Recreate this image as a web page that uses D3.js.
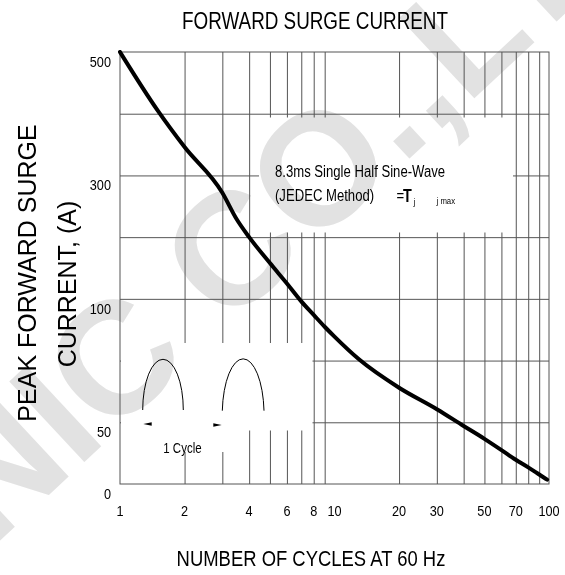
<!DOCTYPE html>
<html>
<head>
<meta charset="utf-8">
<script src="https://cdn.jsdelivr.net/npm/d3@7"></script>
<style>
  html, body { margin: 0; padding: 0; background: #fff; }
  svg { display: block; }
</style>
</head>
<body>
<svg id="chart" width="565" height="575"></svg>
<script>
// ---------------- data ----------------
const cycles  = [1, 1.5, 2, 3, 3.5, 4, 5, 6, 7, 8, 9, 10, 13, 20, 30, 40, 50, 60, 70, 80, 90, 98];
const current = [500, 405, 346, 272, 229, 200, 158, 125, 99, 93.5, 88.7, 84.7, 75.5, 64, 55.3, 47, 36.6, 27.5, 19.6, 13.5, 7.7, 3.5];

const xTickValues = [1, 2, 4, 6, 8, 10, 20, 30, 50, 70, 100];
const xTickLabels = ["1", "2", "4", "6", "8", "10", "20", "30", "50", "70", "100"];
const xGridValues = [2, 3, 4, 5, 6, 7, 8, 9, 20, 30, 40, 50, 60, 70, 80, 90];

const yBreaks     = [0, 50, 100, 500];
const yTickValues = [500, 300, 100, 50, 0];
const yTickLabels = ["500", "300", "100", "50", "0"];
const yGridValues = [400, 300, 200, 100, 75, 50];

const title  = "FORWARD SURGE CURRENT";
const xTitle = "NUMBER OF CYCLES AT 60 Hz";
const yTitle1 = "PEAK FORWARD SURGE";
const yTitle2 = "CURRENT, (A)";
const note1 = "8.3ms Single Half Sine-Wave";
const note2 = "(JEDEC Method)";
const cycleLabel = "1 Cycle";
const watermark = "NIC CO.,LTD";

// ---------------- layout ----------------
const svg = d3.select("#chart");
const L = 120, R = 549, T = 52, B = 484;
const step = (B - T) / 7;

const x = d3.scaleLog().domain([1, 100]).range([L, R]);
const y = d3.scaleLinear().domain(yBreaks).range([B, B - step, B - 3 * step, T]);

// narrow font detection
function measure(font) {
  const t = svg.append("text").style("font", font).text(title);
  const w = t.node().getComputedTextLength();
  t.remove();
  return w;
}
const narrowOK = measure("20px 'Liberation Sans Narrow'") / measure("20px 'Liberation Sans'") < 0.9;
const NF = narrowOK ? "'Liberation Sans Narrow', 'Arial Narrow', sans-serif" : "'Liberation Sans', Arial, sans-serif";
const SX = narrowOK ? 1 : 0.82;

function ntext(parent, px, py, str, size, anchor, weight) {
  const g = parent.append("g").attr("transform", `translate(${px},${py}) scale(${SX},1)`);
  return g.append("text")
    .attr("x", 0).attr("y", 0)
    .attr("text-anchor", anchor || "start")
    .style("font-family", NF)
    .style("font-size", size + "px")
    .style("font-weight", weight || "normal")
    .attr("fill", "#000")
    .text(str);
}

// ---------------- watermark ----------------
svg.append("text")
  .attr("transform", "translate(-8,548) rotate(-43)")
  .style("font-family", "'Liberation Sans', Arial, sans-serif")
  .style("font-weight", "bold")
  .style("font-size", "160px")
  .attr("fill", "#e2e2e2")
  .text(watermark);

// ---------------- grid with blank areas ----------------
const defs = svg.append("defs");
const mask = defs.append("mask").attr("id", "gridMask").attr("maskUnits", "userSpaceOnUse")
  .attr("x", 0).attr("y", 0).attr("width", 565).attr("height", 575);
mask.append("rect").attr("x", 0).attr("y", 0).attr("width", 565).attr("height", 575).attr("fill", "#fff");
// note box
mask.append("rect").attr("x", 259).attr("y", 117.5).attr("width", 254).attr("height", 115).attr("fill", "#000");
// inset sketch
mask.append("rect").attr("x", 121).attr("y", 343).attr("width", 191.5).attr("height", 87.5).attr("fill", "#000");
mask.append("rect").attr("x", 170).attr("y", 430).attr("width", 70).attr("height", 22).attr("fill", "#000");

const grid = svg.append("g").attr("mask", "url(#gridMask)");
const gridColor = "#555";

grid.append("g")
  .attr("transform", `translate(0,${B})`)
  .call(d3.axisBottom(x).tickValues(xGridValues).tickSize(-(B - T)).tickFormat(""))
  .call(g => g.select(".domain").remove())
  .call(g => g.selectAll("line").attr("stroke", gridColor).attr("stroke-width", 1));

grid.append("g")
  .attr("transform", `translate(${L},0)`)
  .call(d3.axisLeft(y).tickValues(yGridValues).tickSize(-(R - L)).tickFormat(""))
  .call(g => g.select(".domain").remove())
  .call(g => g.selectAll("line").attr("stroke", gridColor).attr("stroke-width", 1));

// frame
svg.append("rect")
  .attr("x", x(1)).attr("y", y(500))
  .attr("width", x(100) - x(1)).attr("height", y(0) - y(500))
  .attr("fill", "none").attr("stroke", gridColor).attr("stroke-width", 1);

// ---------------- tick labels ----------------
const xl = svg.append("g");
xTickValues.forEach((v, i) => ntext(xl, x(v), 516, xTickLabels[i], 15.5, "middle"));

const yl = svg.append("g");
yTickValues.forEach((v, i) => ntext(yl, 111, y(v) + 15, yTickLabels[i], 15.5, "end"));

// ---------------- curve ----------------
const pts = cycles.map((c, i) => [c, current[i]]);
svg.append("path")
  .datum(pts)
  .attr("fill", "none")
  .attr("stroke", "#000")
  .attr("stroke-width", 4)
  .attr("stroke-linejoin", "round")
  .attr("stroke-linecap", "round")
  .attr("d", d3.line().x(d => x(d[0])).y(d => y(d[1])).curve(d3.curveMonotoneX));

// ---------------- annotation ----------------
ntext(svg, 275, 176.5, note1, 16);
ntext(svg, 275, 201, note2, 16);
ntext(svg, 396.5, 201, "=", 16);
ntext(svg, 403, 201.5, "T", 17.5, "start", "bold");
ntext(svg, 413.5, 205, "j", 9.5);
ntext(svg, 436.5, 203.5, "j max", 9.5);

// ---------------- inset sketch ----------------
const sk = svg.append("g").attr("fill", "none").attr("stroke", "#000").attr("stroke-width", 1);
sk.append("path").attr("d", "M142.7,410 A20.3,50.7 0 0 1 183.3,410");
sk.append("path").attr("d", "M222.3,410.7 A20.9,55.7 0 0 1 264,410.7");
svg.append("path").attr("d", "M143.3,424 L151.7,422.3 L151.7,425.7 Z").attr("fill", "#000");
svg.append("path").attr("d", "M221.7,425 L213.3,423.3 L213.3,426.7 Z").attr("fill", "#000");
ntext(svg, 163.3, 453, cycleLabel, 14);

// ---------------- titles ----------------
ntext(svg, 315, 28.5, title, 23, "middle");
ntext(svg, 311, 566, xTitle, 22.5, "middle");

svg.append("text")
  .attr("transform", "translate(36,273) rotate(-90)")
  .attr("text-anchor", "middle")
  .style("font-family", "'Liberation Sans', Arial, sans-serif")
  .style("font-size", "25px")
  .attr("fill", "#000")
  .text(yTitle1);
svg.append("text")
  .attr("transform", "translate(75.5,284) rotate(-90)")
  .attr("text-anchor", "middle")
  .style("font-family", "'Liberation Sans', Arial, sans-serif")
  .style("font-size", "25px")
  .attr("fill", "#000")
  .text(yTitle2);
</script>
</body>
</html>
